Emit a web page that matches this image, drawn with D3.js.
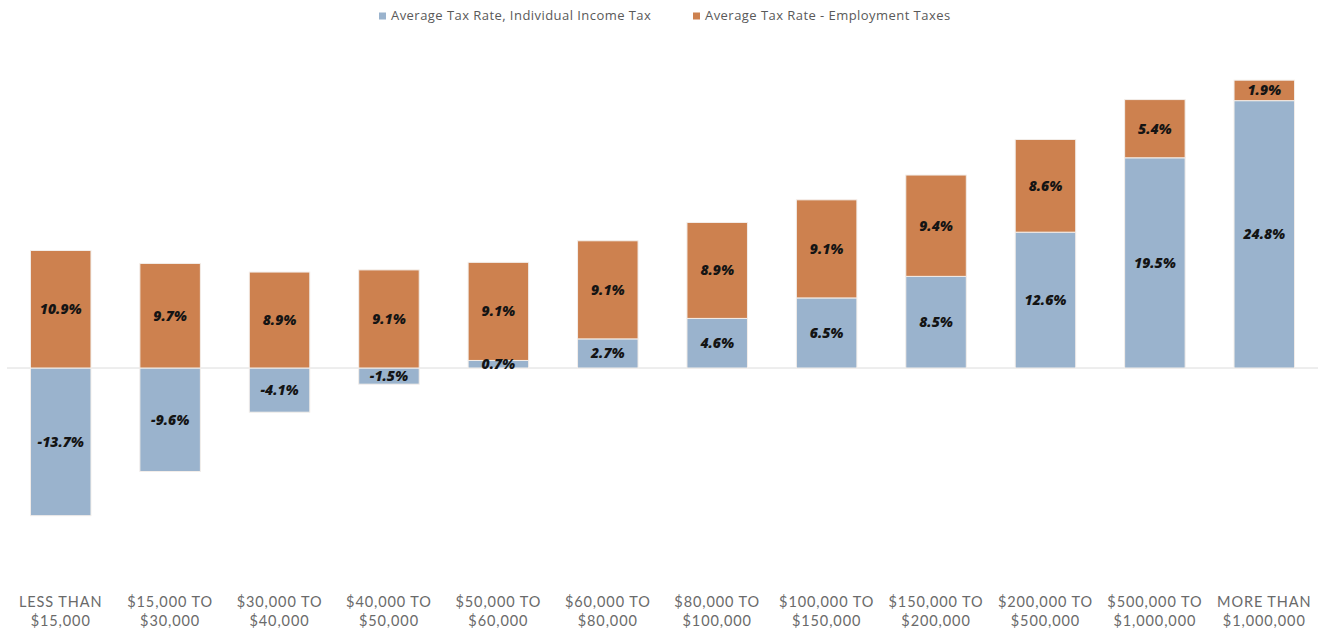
<!DOCTYPE html>
<html>
<head>
<meta charset="utf-8">
<script src="https://cdn.jsdelivr.net/npm/d3@7"></script>
<style>
  html, body { margin: 0; padding: 0; background: #ffffff; }
  svg { display: block; }
</style>
</head>
<body>
<svg id="chart" width="1318" height="633"></svg>
<script>
// Income brackets (two-line axis labels)
const categories = [
  ["LESS THAN", "$15,000"],
  ["$15,000 TO", "$30,000"],
  ["$30,000 TO", "$40,000"],
  ["$40,000 TO", "$50,000"],
  ["$50,000 TO", "$60,000"],
  ["$60,000 TO", "$80,000"],
  ["$80,000 TO", "$100,000"],
  ["$100,000 TO", "$150,000"],
  ["$150,000 TO", "$200,000"],
  ["$200,000 TO", "$500,000"],
  ["$500,000 TO", "$1,000,000"],
  ["MORE THAN", "$1,000,000"]
];

// Average tax rates, percent
const incomeTax = [-13.7, -9.6, -4.1, -1.5, 0.7, 2.7, 4.6, 6.5, 8.5, 12.6, 19.5, 24.8];
const employmentTax = [10.9, 9.7, 8.9, 9.1, 9.1, 9.1, 8.9, 9.1, 9.4, 8.6, 5.4, 1.9];

const seriesNames = ["Average Tax Rate, Individual Income Tax", "Average Tax Rate - Employment Taxes"];
const seriesColors = ["#9ab3cd", "#cd814f"];

const svg = d3.select("#chart");

const x = d3.scaleBand()
  .domain(d3.range(categories.length))
  .range([6, 1319])
  .paddingInner(0.447)
  .paddingOuter(0.2235);

const zeroY = 368;
const pxPerPct = 10.78;
const y = d3.scaleLinear()
  .domain([-20, 30])
  .range([zeroY + 20 * pxPerPct, zeroY - 30 * pxPerPct]);

// Zero baseline
svg.append("line")
  .attr("x1", 7).attr("x2", 1318)
  .attr("y1", y(0)).attr("y2", y(0))
  .attr("stroke", "#dcdcdc")
  .attr("stroke-width", 1);

// Stacked segments: positive values stack upward from zero, negatives go below
const segments = [];
categories.forEach((c, i) => {
  const inc = incomeTax[i];
  const emp = employmentTax[i];
  let posBase = 0;
  if (inc < 0) {
    segments.push({ i, s: 0, v: inc, y0: inc, y1: 0 });
  } else {
    segments.push({ i, s: 0, v: inc, y0: 0, y1: inc });
    posBase = inc;
  }
  segments.push({ i, s: 1, v: emp, y0: posBase, y1: posBase + emp });
});

svg.append("g")
  .selectAll("rect")
  .data(segments)
  .join("rect")
  .attr("x", d => x(d.i))
  .attr("width", x.bandwidth())
  .attr("y", d => y(d.y1))
  .attr("height", d => y(d.y0) - y(d.y1))
  .attr("fill", d => seriesColors[d.s])
  .attr("stroke", "#f3eeea")
  .attr("stroke-width", 1);

// Value labels centred in each segment
svg.append("g")
  .selectAll("text")
  .data(segments)
  .join("text")
  .attr("x", d => x(d.i) + x.bandwidth() / 2)
  .attr("y", d => (y(d.y0) + y(d.y1)) / 2)
  .attr("dy", "0.36em")
  .attr("text-anchor", "middle")
  .attr("font-family", "'Open Sans', Lato, sans-serif")
  .attr("font-size", 14)
  .attr("font-weight", 800)
  .attr("font-style", "italic")
  .attr("fill", "#141414")
  .text(d => d.v.toFixed(1) + "%");

// Category labels
const labels = svg.append("g")
  .selectAll("text")
  .data(categories)
  .join("text")
  .attr("x", (d, i) => x(i) + x.bandwidth() / 2)
  .attr("text-anchor", "middle")
  .attr("font-family", "Lato, 'Noto Sans', sans-serif")
  .attr("font-size", 14.5)
  .attr("letter-spacing", 0.9)
  .attr("fill", "#6a6a6a");
labels.append("tspan").attr("x", (d, i) => x(i) + x.bandwidth() / 2).attr("y", 607).text(d => d[0]);
labels.append("tspan").attr("x", (d, i) => x(i) + x.bandwidth() / 2).attr("y", 626).text(d => d[1]);

// Legend
const legendItems = [
  { name: seriesNames[0], color: seriesColors[0], x: 379 },
  { name: seriesNames[1], color: seriesColors[1], x: 693 }
];
const lg = svg.append("g").selectAll("g").data(legendItems).join("g");
lg.append("rect")
  .attr("x", d => d.x).attr("y", 12.5)
  .attr("width", 7).attr("height", 7)
  .attr("fill", d => d.color);
lg.append("text")
  .attr("x", d => d.x + 12)
  .attr("y", 20)
  .attr("font-family", "'Open Sans', Lato, sans-serif")
  .attr("font-size", 13)
  .attr("letter-spacing", 0.45)
  .attr("fill", "#595959")
  .text(d => d.name);
</script>
</body>
</html>
